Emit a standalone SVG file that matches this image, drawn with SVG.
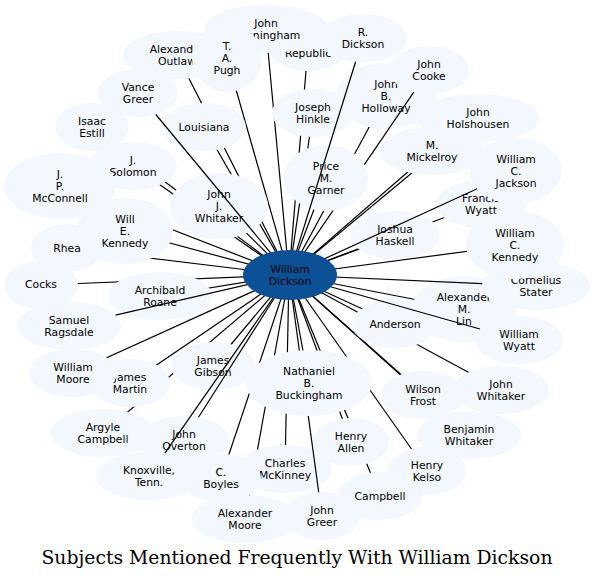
<svg xmlns="http://www.w3.org/2000/svg" width="594" height="581" viewBox="0 0 594 581">
<style>
.n{fill:#f3f7fe}
.c{fill:#0c5096}
text{font-family:"DejaVu Sans",sans-serif;font-size:10.8px;text-anchor:middle;fill:#000}
.e line{stroke:#000;stroke-width:1.2}
.title{font-family:"DejaVu Serif",serif;font-size:18.7px}
</style>
<rect width="594" height="581" fill="#fff"/>
<g id="edges-under" class="e">
<line x1="289" y1="275" x2="266" y2="29"/>
<line x1="289" y1="275" x2="308" y2="47"/>
<line x1="289" y1="275" x2="227" y2="58"/>
<line x1="289" y1="275" x2="177" y2="55"/>
<line x1="289" y1="275" x2="92" y2="127"/>
<line x1="289" y1="275" x2="204" y2="127"/>
<line x1="289" y1="275" x2="133" y2="166"/>
<line x1="289" y1="275" x2="60" y2="186"/>
<line x1="289" y1="275" x2="219" y2="206"/>
<line x1="289" y1="275" x2="313" y2="113"/>
<line x1="289" y1="275" x2="386" y2="96"/>
<line x1="289" y1="275" x2="478" y2="118"/>
<line x1="289" y1="275" x2="432" y2="151"/>
<line x1="289" y1="275" x2="326" y2="178"/>
<line x1="289" y1="275" x2="481" y2="204"/>
<line x1="289" y1="275" x2="395" y2="235"/>
<line x1="289" y1="275" x2="515" y2="245"/>
<line x1="289" y1="275" x2="464" y2="309"/>
<line x1="289" y1="275" x2="395" y2="324"/>
<line x1="289" y1="275" x2="125" y2="231"/>
<line x1="289" y1="275" x2="67" y2="248"/>
<line x1="289" y1="275" x2="41" y2="285"/>
<line x1="289" y1="275" x2="160" y2="296"/>
<line x1="289" y1="275" x2="73" y2="373"/>
<line x1="289" y1="275" x2="130" y2="383"/>
<line x1="289" y1="275" x2="213" y2="366"/>
<line x1="289" y1="275" x2="309" y2="383"/>
<line x1="289" y1="275" x2="423" y2="395"/>
<line x1="289" y1="275" x2="501" y2="390"/>
<line x1="289" y1="275" x2="469" y2="435"/>
<line x1="289" y1="275" x2="427" y2="471"/>
<line x1="289" y1="275" x2="351" y2="442"/>
<line x1="289" y1="275" x2="380" y2="496"/>
<line x1="289" y1="275" x2="285" y2="469"/>
<line x1="289" y1="275" x2="245" y2="519"/>
<line x1="289" y1="275" x2="221" y2="478"/>
<line x1="289" y1="275" x2="103" y2="433"/>
</g>
<g id="nodes-a">
<g id="republic"><ellipse class="n" cx="308" cy="47" rx="40" ry="24"/><text x="308" y="57">Republic</text></g>
<g id="cunningham"><ellipse class="n" cx="266" cy="29" rx="62" ry="24"/><text x="266" y="26.8">John</text><text x="266" y="39">Cunningham</text></g>
<g id="outlaw"><ellipse class="n" cx="177" cy="55" rx="54" ry="24"/><text x="177" y="52.8">Alexander</text><text x="177" y="65">Outlaw</text></g>
<g id="pugh"><ellipse class="n" cx="227" cy="58" rx="35" ry="34"/><text x="227" y="49.7">T.</text><text x="227" y="61.9">A.</text><text x="227" y="74.1">Pugh</text></g>
<g id="rdickson"><ellipse class="n" cx="363" cy="38" rx="44" ry="24"/><text x="363" y="35.8">R.</text><text x="363" y="48">Dickson</text></g>
<g id="vance"><ellipse class="n" cx="138" cy="93" rx="40" ry="24"/><text x="138" y="90.8">Vance</text><text x="138" y="103">Greer</text></g>
<g id="isaac"><ellipse class="n" cx="92" cy="127" rx="37" ry="24"/><text x="92" y="124.8">Isaac</text><text x="92" y="137">Estill</text></g>
<g id="louisiana"><ellipse class="n" cx="204" cy="127" rx="42" ry="24"/><text x="204" y="130.9">Louisiana</text></g>
<g id="solomon"><ellipse class="n" cx="133" cy="166" rx="44" ry="24"/><text x="133" y="163.8">J.</text><text x="133" y="176">Solomon</text></g>
<g id="mcconnell"><ellipse class="n" cx="60" cy="186" rx="56" ry="33"/><text x="60" y="177.7">J.</text><text x="60" y="189.9">P.</text><text x="60" y="202.1">McConnell</text></g>
<g id="jjwhitaker"><ellipse class="n" cx="219" cy="206" rx="49" ry="33"/><text x="219" y="197.7">John</text><text x="219" y="209.9">J.</text><text x="219" y="222.1">Whitaker</text></g>
<g id="hinkle"><ellipse class="n" cx="313" cy="113" rx="41" ry="24"/><text x="313" y="110.8">Joseph</text><text x="313" y="123">Hinkle</text></g>
<g id="holloway"><ellipse class="n" cx="386" cy="96" rx="50" ry="33"/><text x="386" y="87.7">John</text><text x="386" y="99.9">B.</text><text x="386" y="112.1">Holloway</text></g>
<g id="cooke"><ellipse class="n" cx="429" cy="70" rx="40" ry="24"/><text x="429" y="67.8">John</text><text x="429" y="80">Cooke</text></g>
<g id="holshousen"><ellipse class="n" cx="478" cy="118" rx="61" ry="24"/><text x="478" y="115.8">John</text><text x="478" y="128">Holshousen</text></g>
<g id="mickelroy"><ellipse class="n" cx="432" cy="151" rx="52" ry="24"/><text x="432" y="148.8">M.</text><text x="432" y="161">Mickelroy</text></g>
<g id="fwyatt"><ellipse class="n" cx="481" cy="204" rx="45" ry="24"/><text x="481" y="201.8">Francis</text><text x="481" y="214">Wyatt</text></g>
<g id="jackson"><ellipse class="n" cx="516" cy="171" rx="46" ry="33"/><text x="516" y="162.7">William</text><text x="516" y="174.9">C.</text><text x="516" y="187.1">Jackson</text></g>
<g id="haskell"><ellipse class="n" cx="395" cy="235" rx="45" ry="24"/><text x="395" y="232.8">Joshua</text><text x="395" y="245">Haskell</text></g>
<g id="lin"><ellipse class="n" cx="464" cy="309" rx="52" ry="33"/><text x="464" y="300.7">Alexander</text><text x="464" y="312.9">M.</text><text x="464" y="325.1">Lin</text></g>
<g id="stater"><ellipse class="n" cx="536" cy="286" rx="54" ry="24"/><text x="536" y="283.8">Cornelius</text><text x="536" y="296">Stater</text></g>
<g id="wckennedy"><ellipse class="n" cx="515" cy="245" rx="49" ry="34"/><text x="515" y="236.7">William</text><text x="515" y="248.9">C.</text><text x="515" y="261.1">Kennedy</text></g>
<g id="wwyatt"><ellipse class="n" cx="519" cy="340" rx="44" ry="24"/><text x="519" y="337.8">William</text><text x="519" y="350">Wyatt</text></g>
<g id="anderson"><ellipse class="n" cx="395" cy="324" rx="43" ry="24"/><text x="395" y="327.9">Anderson</text></g>
<g id="wekennedy"><ellipse class="n" cx="125" cy="231" rx="48" ry="33"/><text x="125" y="222.7">Will</text><text x="125" y="234.9">E.</text><text x="125" y="247.1">Kennedy</text></g>
<g id="rhea"><ellipse class="n" cx="67" cy="248" rx="36" ry="24"/><text x="67" y="251.9">Rhea</text></g>
<g id="cocks"><ellipse class="n" cx="41" cy="285" rx="37" ry="24"/><text x="41" y="288">Cocks</text></g>
<g id="roane"><ellipse class="n" cx="160" cy="296" rx="52" ry="24"/><text x="160" y="293.8">Archibald</text><text x="160" y="306">Roane</text></g>
<g id="ragsdale"><ellipse class="n" cx="69" cy="326" rx="52" ry="24"/><text x="69" y="323.8">Samuel</text><text x="69" y="336">Ragsdale</text></g>
<g id="jmartin"><ellipse class="n" cx="130" cy="383" rx="40" ry="24"/><text x="130" y="380.8">James</text><text x="130" y="393">Martin</text></g>
<g id="wmoore"><ellipse class="n" cx="73" cy="373" rx="44" ry="24"/><text x="73" y="370.8">William</text><text x="73" y="383">Moore</text></g>
<g id="gibson"><ellipse class="n" cx="213" cy="366" rx="42" ry="24"/><text x="213" y="363.8">James</text><text x="213" y="376">Gibson</text></g>
<g id="frost"><ellipse class="n" cx="423" cy="395" rx="42" ry="24"/><text x="423" y="392.8">Wilson</text><text x="423" y="405">Frost</text></g>
<g id="jwhitaker"><ellipse class="n" cx="501" cy="390" rx="48" ry="24"/><text x="501" y="387.8">John</text><text x="501" y="400">Whitaker</text></g>
<g id="bwhitaker"><ellipse class="n" cx="469" cy="435" rx="52" ry="24"/><text x="469" y="432.8">Benjamin</text><text x="469" y="445">Whitaker</text></g>
<g id="kelso"><ellipse class="n" cx="427" cy="471" rx="39" ry="24"/><text x="427" y="468.8">Henry</text><text x="427" y="481">Kelso</text></g>
<g id="allen"><ellipse class="n" cx="351" cy="442" rx="38" ry="24"/><text x="351" y="439.8">Henry</text><text x="351" y="452">Allen</text></g>
<g id="campbell"><ellipse class="n" cx="380" cy="496" rx="42" ry="24"/><text x="380" y="499.9">Campbell</text></g>
<g id="greer"><ellipse class="n" cx="322" cy="516" rx="38" ry="24"/><text x="322" y="513.8">John</text><text x="322" y="526">Greer</text></g>
<g id="mckinney"><ellipse class="n" cx="285" cy="469" rx="47" ry="24"/><text x="285" y="466.8">Charles</text><text x="285" y="479">McKinney</text></g>
<g id="amoore"><ellipse class="n" cx="245" cy="519" rx="53" ry="24"/><text x="245" y="516.8">Alexander</text><text x="245" y="529">Moore</text></g>
<g id="boyles"><ellipse class="n" cx="221" cy="478" rx="40" ry="24"/><text x="221" y="475.8">C.</text><text x="221" y="488">Boyles</text></g>
<g id="overton"><ellipse class="n" cx="184" cy="440" rx="45" ry="24"/><text x="184" y="437.8">John</text><text x="184" y="450">Overton</text></g>
<g id="knoxville"><ellipse class="n" cx="149" cy="476" rx="53" ry="24"/><text x="149" y="473.8">Knoxville,</text><text x="149" y="486">Tenn.</text></g>
<g id="argyle"><ellipse class="n" cx="103" cy="433" rx="52" ry="24"/><text x="103" y="430.8">Argyle</text><text x="103" y="443">Campbell</text></g>
</g>
<g id="edges-mid" class="e">
<line x1="289" y1="275" x2="413.8" y2="92.2"/>
<line x1="289" y1="275" x2="318.7" y2="492.1"/>
</g>
<g id="nodes-b">
<g id="garner"><ellipse class="n" cx="326" cy="178" rx="42" ry="33"/><text x="326" y="169.7">Price</text><text x="326" y="181.9">M.</text><text x="326" y="194.1">Garner</text></g>
<g id="buckingham"><ellipse class="n" cx="309" cy="383" rx="63" ry="33"/><text x="309" y="374.7">Nathaniel</text><text x="309" y="386.9">B.</text><text x="309" y="399.1">Buckingham</text></g>
</g>
<g id="edges-over" class="e">
<line x1="289" y1="275" x2="355.6" y2="61.7"/>
<line x1="289" y1="275" x2="477.2" y2="188.8"/>
<line x1="289" y1="275" x2="164.9" y2="453.1"/>
<line x1="289" y1="275" x2="198.5" y2="417.3"/>
<line x1="289" y1="275" x2="480" y2="329"/>
<line x1="289" y1="275" x2="482.3" y2="283.6"/>
<line x1="289" y1="275" x2="115.5" y2="315.2"/>
<line x1="289" y1="275" x2="155.8" y2="114.5"/>
</g>
<g id="center"><ellipse class="c" cx="290" cy="275" rx="47" ry="25"/><text x="290" y="272.8">William</text><text x="290" y="285">Dickson</text></g>
<text class="title" x="297" y="564" textLength="511" lengthAdjust="spacingAndGlyphs">Subjects Mentioned Frequently With William Dickson</text>
</svg>
